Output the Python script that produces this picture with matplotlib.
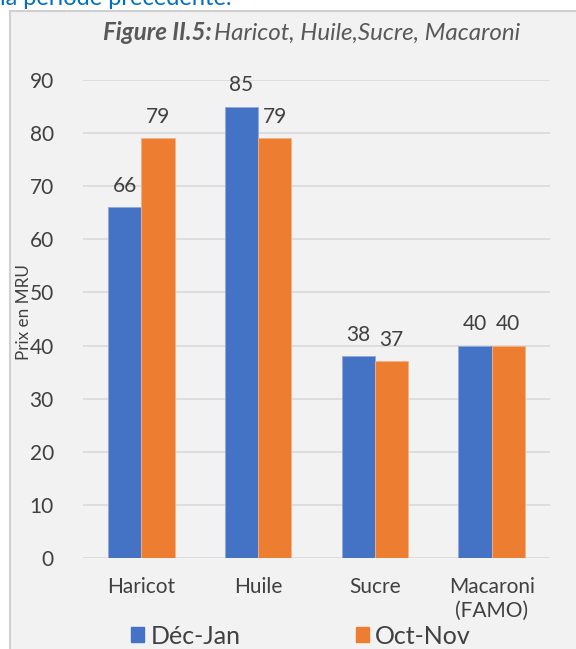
import matplotlib
matplotlib.use('Agg')
import matplotlib.pyplot as plt
import matplotlib.patches as mpatches
import numpy as np

plt.rcParams['font.family'] = ['Lato', 'DejaVu Sans']

# ── données ──────────────────────────────────────────────
categories = ['Haricot', 'Huile', 'Sucre', 'Macaroni\n(FAMO)']
dec_jan = [66, 85, 38, 40]
oct_nov = [79, 79, 37, 40]
series_names = ['Déc-Jan', 'Oct-Nov']
yticks = [0, 10, 20, 30, 40, 50, 60, 70, 80, 90]

BLUE = '#4472C4'
ORANGE = '#ED7D31'
TXT = '#404040'
GRID = '#d9d9d9'

W, H = 576, 649
fig = plt.figure(figsize=(W / 100, H / 100), dpi=100)
fig.patch.set_facecolor('white')

# cadre gris du graphique
fig.patches.append(mpatches.Rectangle((10 / W, -0.01), 1.0, (H - 11) / H + 0.01,
                                      transform=fig.transFigure, facecolor='#f2f2f2',
                                      edgecolor='#d0d0d0', linewidth=1.5, zorder=-5))

# texte coupé en haut
fig.text(0.0, 1 - 5 / H, 'la période précédente.', color='#0070C0', fontsize=17,
         ha='left', va='baseline')

ax = fig.add_axes([83 / W, 91 / H, 467 / W, 478 / H])
ax.set_facecolor('none')

x = np.arange(len(categories))
w = 0.285
b1 = ax.bar(x - w / 2, dec_jan, w, color=BLUE, edgecolor='#8fa9dc', linewidth=0.6,
            label=series_names[0], zorder=3)
b2 = ax.bar(x + w / 2, oct_nov, w, color=ORANGE, edgecolor='#f4b183', linewidth=0.6,
            label=series_names[1], zorder=3)

for bars in (b1, b2):
    ax.bar_label(bars, padding=8, fontsize=15, color=TXT)

ax.set_xlim(-0.5, 3.5)
ax.set_ylim(0, 90)
ax.set_yticks(yticks)
ax.set_xticks(x)
ax.set_xticklabels(categories)
ax.yaxis.grid(True, color=GRID, linewidth=1.2, zorder=0)
ax.set_axisbelow(True)
for s in ax.spines.values():
    s.set_visible(False)
ax.tick_params(axis='both', length=0, labelsize=15, labelcolor=TXT)
ax.tick_params(axis='y', pad=21)
ax.tick_params(axis='x', pad=14)
ax.set_ylabel('Prix en MRU', fontsize=12.3, color=TXT)
ax.yaxis.set_label_coords(-0.11, 0.515)

# titre
fig.text(103 / W, 1 - 33 / H, 'Figure II.5:', fontsize=17.4, color='#595959',
         fontweight='bold', fontstyle='italic', ha='left', va='center')
fig.text(214 / W, 1 - 33 / H, 'Haricot, Huile,Sucre, Macaroni', fontsize=17.4,
         color='#595959', fontstyle='italic', ha='left', va='center')

# légende
handles = [mpatches.Patch(color=BLUE), mpatches.Patch(color=ORANGE)]
leg = fig.legend(handles, series_names, loc='center', ncol=2,
                 bbox_to_anchor=(301 / W, 1 - 636 / H), frameon=False, fontsize=18,
                 labelcolor=TXT, handlelength=0.52, handleheight=0.52,
                 handletextpad=0.25, columnspacing=4.6)

fig.savefig('out.png', dpi=100, facecolor=fig.get_facecolor())
